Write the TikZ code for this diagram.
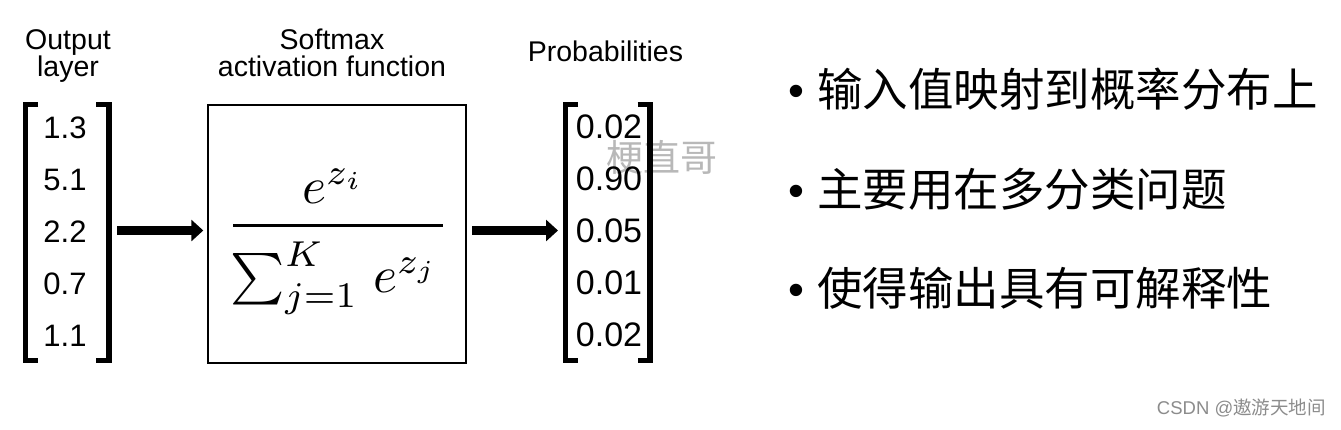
\documentclass[tikz,border=0pt]{standalone}
\usepackage{fontspec}
\newfontfamily\lsans{Liberation Sans}
\newfontfamily\cjk{Noto Sans CJK SC}
\usetikzlibrary{arrows.meta}
\tikzset{
  lbl/.style={font=\lsans\fontsize{28.5}{26.8}\selectfont, align=center, inner sep=0pt},
  numL/.style={font=\lsans\fontsize{31}{31}\selectfont, anchor=base, inner sep=0pt},
  numR/.style={font=\lsans\fontsize{34}{34}\selectfont, anchor=base, inner sep=0pt},
  matframe/.style={inner sep=0pt, outer sep=0pt, minimum width=#1, minimum height=256pt},
  brk/.style={line width=5.5pt, line join=miter},
  fatarrow/.style={line width=9pt, -{Triangle[length=12pt,width=21pt]}},
  cjktext/.style={font=\cjk\fontsize{45.5}{50}\selectfont, anchor=base west, inner sep=0pt},
  bulletdot/.style={font=\lsans\fontsize{45.5}{50}\selectfont, anchor=base, inner sep=0pt},
  mathbig/.style={scale=5.15, anchor=base, inner sep=0pt},
  fnbox/.style={draw, line width=2pt, minimum width=258pt, minimum height=258pt, inner sep=0pt},
}
\begin{document}
\begin{tikzpicture}[x=1pt,y=-1pt]
\fill[white] (0,0) rectangle (1341,429);
\useasboundingbox (0,0) rectangle (1341,429);

% watermark
\node[font=\cjk\fontsize{37}{37}\selectfont, text=black!28, inner sep=0pt] (wm) at (661.5,157) {梗直哥};

% titles
\node[lbl] (tl1) at (68,56) {Output\\layer};
\node[lbl] (tl2) at (332,53) {Softmax\\activation function};
\node[lbl] (tl3) at (605.5,51) {Probabilities};

% left vector
\node[matframe=83.3pt] (inL) at (67.15,232.5) {};
\foreach \v [count=\i] in {1.3,5.1,2.2,0.7,1.1}
  \node[numL] (l\i) at (65,86+52*\i) {\v};
\draw[brk] ([xshift=12.5pt]inL.north west) -- (inL.north west) -- (inL.south west) -- ([xshift=12.5pt]inL.south west);
\draw[brk] ([xshift=-12.5pt]inL.north east) -- (inL.north east) -- (inL.south east) -- ([xshift=-12.5pt]inL.south east);

% softmax box
\node[fnbox] (box) at (337,233.5) {};
\node[mathbig] (num) at (333.5,203) {$e^{z_i}$};
\node[mathbig] (den) at (334.5,292) {$\sum_{j=1}^{K}\mkern2mu e^{z_j}$};
\coordinate (barL) at (233,225);
\coordinate (barR) at (443,225);
\draw[line width=3pt] (barL) -- (barR);

% right vector
\node[matframe=84.5pt] (outR) at (607.75,232.5) {};
\foreach \v [count=\i] in {0.02,0.90,0.05,0.01,0.02}
  \node[numR] (r\i) at (609,86+52*\i) {\v};
\draw[brk] ([xshift=12.5pt]outR.north west) -- (outR.north west) -- (outR.south west) -- ([xshift=12.5pt]outR.south west);
\draw[brk] ([xshift=-12.5pt]outR.north east) -- (outR.north east) -- (outR.south east) -- ([xshift=-12.5pt]outR.south east);

% arrows
\coordinate (a1) at ([yshift=2pt]inL.east);
\draw[fatarrow, shorten <=8.2pt, shorten >=3.7pt] (a1) -- (a1 -| box.west);
\coordinate (a2) at ([yshift=2pt]outR.west);
\draw[fatarrow, shorten <=5pt, shorten >=7.5pt] (a2 -| box.east) -- (a2);

% bullet list
\node[bulletdot] (b1) at (796,106) {•};
\node[cjktext] (t1) at (817,106) {输入值映射到概率分布上};
\node[bulletdot] (b2) at (796,206) {•};
\node[cjktext] (t2) at (817,206) {主要用在多分类问题};
\node[bulletdot] (b3) at (796,305) {•};
\node[cjktext] (t3) at (817,305) {使得输出具有可解释性};

% credit
\node[anchor=east, inner sep=0pt, text=black!45] (csdn) at (1326,408) {\lsans\fontsize{18.5}{18.5}\selectfont CSDN @\cjk 遨游天地间};
\end{tikzpicture}
\end{document}
